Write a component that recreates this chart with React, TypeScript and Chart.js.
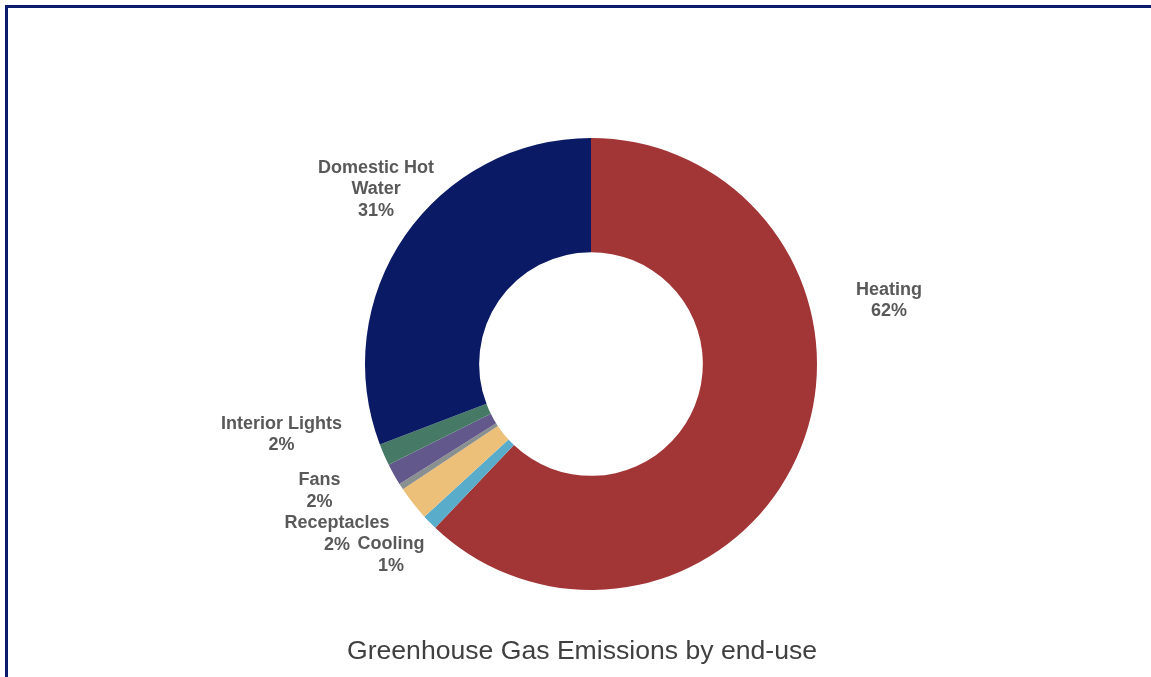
import React, { useEffect, useRef } from "react";
import { Chart, registerables } from "chart.js";

Chart.register(...registerables);

// ---- data ----
const categories = [
  "Heating",
  "Cooling",
  "Receptacles",
  "Exterior Lights",
  "Fans",
  "Interior Lights",
  "Domestic Hot Water",
];
const shares = [62.1, 1.1, 2.45, 0.45, 1.55, 1.55, 30.8];
const sliceColors = ["#A23536", "#5AACCB", "#EDC07A", "#8A8F8F", "#62588B", "#467A67", "#0B1A64"];
const labelLines: string[][] = [
  ["Heating"],
  ["Cooling"],
  ["Receptacles"],
  [],
  ["Fans"],
  ["Interior Lights"],
  ["Domestic Hot", "Water"],
];
const chartTitle = "Greenhouse Gas Emissions by end-use";

// label placement relative to slice centre, in units of the outer radius (layout, not data)
const labelPlacement: (number[] | null)[] = [
  [1.319, -0.281],
  [-0.885, 0.845],
  [-1.124, 0.752],
  null,
  [-1.201, 0.562],
  [-1.369, 0.312],
  [-0.951, -0.774],
];

const FONT = "'Liberation Sans', Arial, Helvetica, sans-serif";

const dataLabelPlugin = {
  id: "sliceLabels",
  afterDatasetsDraw(chart: any) {
    const meta = chart.getDatasetMeta(0);
    const values: number[] = chart.data.datasets[0].data;
    const total = values.reduce((a, b) => a + b, 0);
    const ctx = chart.ctx;
    ctx.save();
    ctx.font = `bold 18px ${FONT}`;
    ctx.fillStyle = "#595959";
    ctx.textAlign = "center";
    ctx.textBaseline = "middle";
    const lh = 21.5;
    meta.data.forEach((arc: any, i: number) => {
      const place = labelPlacement[i];
      if (!place || labelLines[i].length === 0) return;
      const R = arc.outerRadius;
      const cx = arc.x + place[0] * R;
      const cy = arc.y + place[1] * R;
      const pct = Math.round((values[i] / total) * 100) + "%";
      const lines = [...labelLines[i], pct];
      const y0 = cy - ((lines.length - 1) / 2) * lh;
      lines.forEach((t, k) => ctx.fillText(t, cx, y0 + k * lh));
    });
    ctx.restore();
  },
};

const bottomTitlePlugin = {
  id: "bottomTitle",
  afterDraw(chart: any) {
    const ctx = chart.ctx;
    ctx.save();
    ctx.font = `26.6px ${FONT}`;
    ctx.fillStyle = "#404040";
    ctx.textAlign = "center";
    ctx.textBaseline = "middle";
    ctx.fillText(chartTitle, 582, chart.chartArea.bottom + 62);
    ctx.restore();
  },
};

export default function App() {
  const ref = useRef<HTMLCanvasElement | null>(null);
  useEffect(() => {
    document.body.style.margin = "0";
    const canvas = ref.current!;
    const chart = new Chart(canvas, {
      type: "doughnut",
      data: {
        labels: categories,
        datasets: [
          {
            data: shares,
            backgroundColor: sliceColors,
            borderWidth: 0,
          },
        ],
      },
      options: {
        responsive: false,
        animation: false,
        devicePixelRatio: 1,
        cutout: "49.5%",
        rotation: 0,
        layout: { padding: { left: 365, right: 334, top: 138, bottom: 87 } },
        plugins: {
          legend: { display: false },
          tooltip: { enabled: false },
          title: { display: false },
        },
      },
      plugins: [dataLabelPlugin, bottomTitlePlugin],
    });
    return () => chart.destroy();
  }, []);

  return (
    <div
      style={{
        position: "fixed",
        left: 0,
        top: 0,
        width: 1151,
        height: 677,
        overflow: "hidden",
        background: "#ffffff",
      }}
    >
      <div
        style={{
          position: "absolute",
          left: 5,
          top: 5,
          width: 1152,
          height: 720,
          border: "3px solid #0C1B6B",
          boxSizing: "border-box",
        }}
      />
      <canvas
        ref={ref}
        width={1151}
        height={677}
        style={{ position: "absolute", left: 0, top: 0, width: 1151, height: 677 }}
      />
    </div>
  );
}
